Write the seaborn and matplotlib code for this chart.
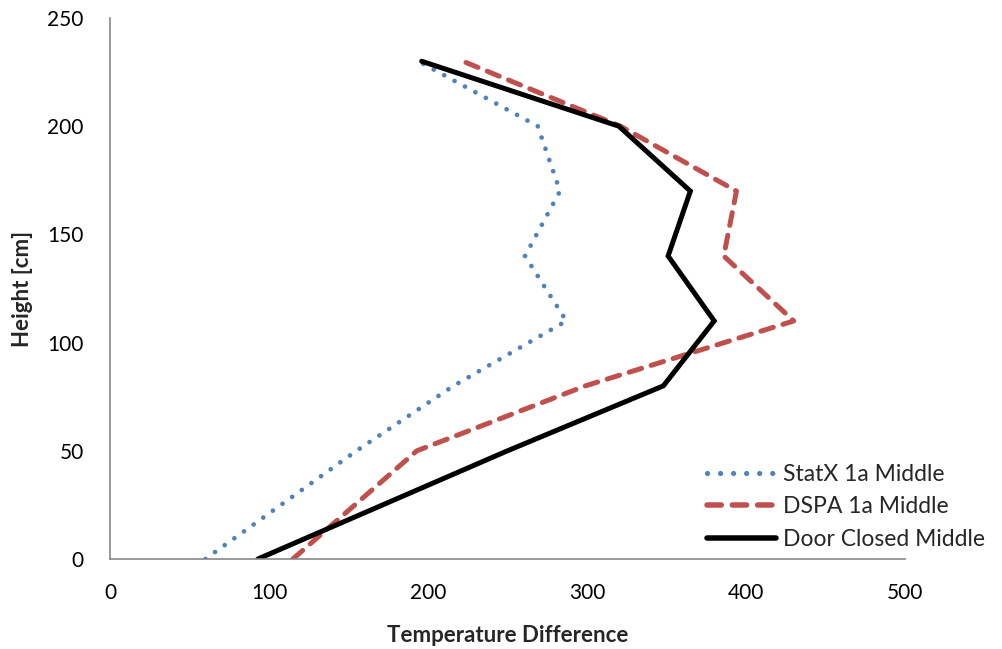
import matplotlib
matplotlib.use("Agg")
import matplotlib.pyplot as plt
import seaborn as sns
import pandas as pd

heights = [0, 50, 80, 110, 140, 170, 200, 230]
statx = [60, 155, 216, 287, 261, 283, 269, 194]
dspa = [115, 193, 299, 430, 386, 394, 321, 222]
door = [93, 250, 348, 380, 351, 365, 320, 196]

series_names = ["StatX 1a Middle", "DSPA 1a Middle", "Door Closed Middle"]
series_vals = [statx, dspa, door]

sns.set_theme(style="white")
plt.rcParams['font.family'] = ['Lato', 'DejaVu Sans']

fig = plt.figure(figsize=(10.03, 6.49), dpi=100)
ax = fig.add_axes([0.1097, 0.1387, 0.7926, 0.8336])

styles = {
    "StatX 1a Middle": dict(color="#4F81BD", lw=3.4, ls=(0, (0.01, 2.5)), cap="round"),
    "DSPA 1a Middle": dict(color="#C0504D", lw=3.6, ls=(0, (2.6, 2.0)), cap="round"),
    "Door Closed Middle": dict(color="black", lw=3.6, ls="-", cap="butt"),
}

for name, vals in zip(series_names, series_vals):
    df = pd.DataFrame({"Temperature Difference": vals, "Height": heights})
    st = styles[name]
    sns.lineplot(data=df, x="Temperature Difference", y="Height", sort=False,
                 estimator=None, ax=ax, label=name, color=st["color"], lw=st["lw"])
    l = ax.get_lines()[-1]
    l.set_linestyle(st["ls"])
    l.set_dash_capstyle(st["cap"])
    l.set_solid_joinstyle("miter")

ax.set_xlim(0, 500)
ax.set_ylim(0, 250)
ax.set_xticks([0, 100, 200, 300, 400, 500])
ax.set_yticks([0, 50, 100, 150, 200, 250])
ax.tick_params(axis="both", labelsize=15, colors="#000000", length=0)
ax.tick_params(axis="y", pad=19)
ax.tick_params(axis="x", pad=17)
for s in ["top", "right"]:
    ax.spines[s].set_visible(False)
for s in ["left", "bottom"]:
    ax.spines[s].set_color("#888888")
    ax.spines[s].set_linewidth(1.2)
ax.set_xlabel("Temperature Difference", fontsize=16, fontweight="bold", labelpad=16)
ax.set_ylabel("Height [cm]", fontsize=16, fontweight="bold", labelpad=10)

leg = ax.legend(loc="lower left", bbox_to_anchor=(0.74, 0.0), frameon=False, fontsize=16.5,
                handlelength=3.0, handletextpad=0.3, labelspacing=0.5, borderaxespad=0.0)
for h, name in zip(leg.get_lines(), series_names):
    st = styles[name]
    h.set_linestyle(st["ls"])
    h.set_linewidth(st["lw"] * 1.1)
    h.set_dash_capstyle(st["cap"])

fig.savefig("out.png", dpi=100)
